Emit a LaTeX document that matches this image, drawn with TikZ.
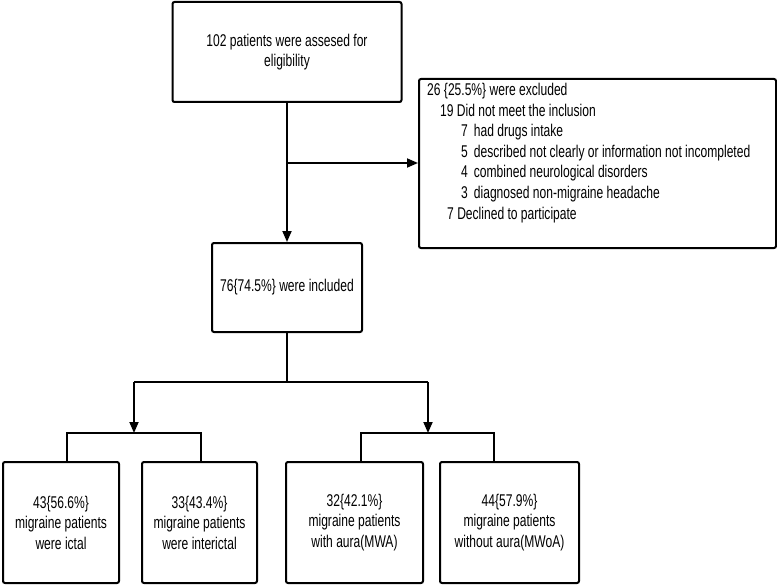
\documentclass[tikz,border=0pt]{standalone}
\usepackage{fontspec}
\setmainfont{Liberation Sans}[FakeStretch=0.71]
\usetikzlibrary{arrows.meta}
\begin{document}
\begin{tikzpicture}[x=1pt,y=-1pt,
  box/.style={draw,line width=2pt,rounded corners=2pt,inner sep=0pt,align=center,
    font=\fontsize{17}{20.5}\selectfont},
  conn/.style={line width=1.8pt},
  arr/.style={conn,-{Triangle[length=11pt,width=9pt]}}]
\useasboundingbox (0,0) rectangle (777,586);
\node[box,minimum width=229pt,minimum height=100pt] (top) at (287,52) {102 patients were assesed for\\eligibility};
\node[box,minimum width=357pt,minimum height=169pt] (excl) at (597.5,163.5) {};
\node[anchor=north west,inner sep=0pt,align=left,font=\fontsize{17}{20.6}\selectfont] (excltext) at (427,83)
 {26 \{25.5\%\} were excluded\\
  \hspace*{13pt}19 Did not meet the inclusion\\
  \hspace*{34pt}7\hspace*{6pt}had drugs intake\\
  \hspace*{34pt}5\hspace*{6pt}described not clearly or information not incompleted\\
  \hspace*{34pt}4\hspace*{6pt}combined neurological disorders\\
  \hspace*{34pt}3\hspace*{6pt}diagnosed non-migraine headache\\
  \hspace*{20pt}7 Declined to participate};
\node[box,minimum width=150pt,minimum height=89pt] (incl) at (287,287.5) {76\{74.5\%\} were included};
\node[box,minimum width=116pt,minimum height=121pt] (b1) at (61,522.5) {43\{56.6\%\}\\migraine patients\\were ictal};
\node[box,minimum width=115pt,minimum height=121pt] (b2) at (199.5,522.5) {33\{43.4\%\}\\migraine patients\\were interictal};
\node[box,minimum width=137pt,minimum height=121pt] (b3) at (354.5,522.5) {32\{42.1\%\}\\migraine patients\\with aura(MWA)};
\node[box,minimum width=139pt,minimum height=121pt] (b4) at (509.5,522.5) {44\{57.9\%\}\\migraine patients\\without aura(MWoA)};
\coordinate (side) at (287,163);
\coordinate (j) at (287,382);
\coordinate (jl) at (134,382);
\coordinate (jr) at (428,382);
\coordinate (gl) at (134,433);
\coordinate (gr) at (428,433);
\draw[arr] (top.south) -- (incl.north);
\draw[arr] (side) -- (excl.west |- side);
\draw[conn] (incl.south) -- (j);
\draw[conn] (jl) -- (jr);
\draw[arr] (jl) -- (gl);
\draw[arr] (jr) -- (gr);
\draw[conn] ([xshift=6pt]b1.north) |- (gl) -| ([xshift=1.5pt]b2.north);
\draw[conn] ([xshift=6.5pt]b3.north) |- (gr) -| ([xshift=-15.5pt]b4.north);
\end{tikzpicture}
\end{document}
